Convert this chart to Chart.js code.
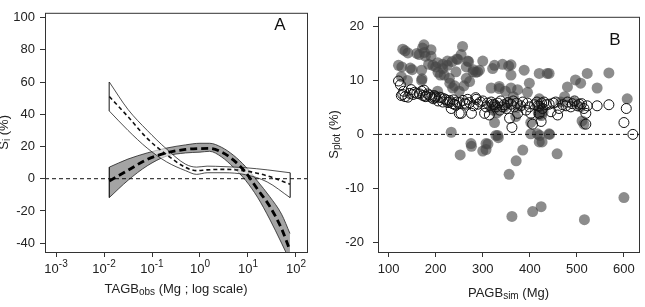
<!DOCTYPE html>
<html>
<head>
<meta charset="utf-8">
<script src="https://cdn.jsdelivr.net/npm/chart.js@4.4.0/dist/chart.umd.min.js"></script>
<style>
    html, body { margin: 0; padding: 0; background: #fff; }
    #wrap { position: relative; width: 645px; height: 307px; }
    #chartA { position: absolute; left: 0; top: 0; }
    #chartB { position: absolute; left: 325px; top: 0; }
</style>
</head>
<body>
<div id="wrap">
    <canvas id="chartA" width="325" height="307"></canvas>
    <canvas id="chartB" width="320" height="307"></canvas>
</div>
<script>
// ---- panel A : bias vs TAGB (log scale) ----
const grayX   = [0.0129, 0.0316, 0.0794, 0.2, 0.5, 1.0, 1.58, 2.82, 5.01, 8.91, 15.8, 28.2, 50.1, 75];
const grayMid = [-1.4, 5.2, 12, 16, 18.2, 18.7, 18.8, 16.5, 11.5, 4, -6.5, -17, -31, -44.5];
const grayHi  = [7.2, 12.2, 16, 19, 21, 22, 22, 19.5, 14.5, 7.5, -1.5, -11, -22, -34];
const grayLo  = [-11.7, -1, 8, 14, 16, 16.5, 17, 13.5, 7, -1, -11.5, -25, -40, -51];

const whiteX   = [0.0129, 0.0316, 0.0794, 0.2, 0.5, 0.851, 1.41, 3.16, 8.91, 25.1, 75];
const whiteMid = [51, 38.5, 25, 15, 7, 5, 5.5, 5.8, 4.8, 1.8, -3.4];
const whiteHi  = [60, 43, 30, 18.5, 9, 7.2, 7.8, 7.5, 6.8, 5.5, 3.7];
const whiteLo  = [42, 30, 19, 10.5, 5, 2.7, 3.7, 3.7, 2.5, -2, -11.7];

const aTickExp = [-3, -2, -1, 0, 1, 2];
const aYTicks  = [-40, -20, 0, 20, 40, 60, 80, 100];

// ---- panel B : plot bias vs PAGB ----
const filledX = [130, 141, 175, 176, 190, 190, 121, 146, 170, 171, 194, 204, 215, 225, 218, 229, 243, 247, 257, 254, 236, 204, 233, 127,
    268, 300, 325, 342, 360, 321, 360, 388, 420, 437, 293, 279, 265, 272, 289, 318, 335, 360, 374, 399, 395, 420, 423, 420, 325, 370, 402, 332, 402, 416, 420, 275, 307,
    441, 522, 568, 497, 508, 543, 480, 474, 466, 494, 508, 607, 511, 515, 441,
    252, 276, 300, 307, 311, 328, 333, 356, 371, 385, 362, 406, 424, 421, 426, 442, 458, 516, 600,
    318, 322, 325, 330, 345, 355, 365, 375, 418, 422, 425, 428, 250, 240, 230, 260, 280, 285, 265, 270, 245, 235, 225, 210, 205, 200, 215, 185, 178, 170, 165, 160, 150, 140, 135, 128, 172, 355, 348, 335];
const filledY = [15.8, 15.1, 16.6, 15.2, 15.7, 14.5, 12.8, 12.3, 11.9, 10.3, 12.8, 13.3, 12.2, 13.6, 11.0, 10.4, 11.6, 13.9, 16.3, 14.8, 8.6, 8.0, 0.4, 10.7,
    13.6, 13.6, 12.8, 13.0, 12.9, 12.2, 11.0, 11.9, 11.3, 11.3, 11.9, 11.6, 10.4, 9.8, 11.6, 8.6, 8.9, 8.6, 8.3, 9.5, 7.8, 6.6, 4.8, 3.6, 2.2, 3.3, 2.2, -0.2, 0.1, 0.1, -1.4, -1.7, -1.7,
    11.3, 11.3, 11.4, 10.1, 9.5, 8.6, 8.8, 7.0, 6.0, 6.0, 5.1, 6.6, 2.5, 1.9, 0.1,
    -3.8, -2.2, -3.1, -2.8, -1.8, -0.2, -0.6, -7.4, -4.9, -2.9, -15.2, -14.3, -13.4, -0.2, -1.4, 0.0, -3.6, -15.8, -11.7,
    5, 4.5, 5.5, 4, 5, 6, 7, 5, 4, 5, 3.5, 4.2, 8, 9, 9.5, 9, 12, 11.5, 12.5, 13.5, 14, 13.5, 12.8, 11, 11.5, 12.5, 13, 13, 14.5, 10, 14.8, 15, 12, 10, 15.5, 12.5, 16, 12.7, 8, 8.5];

const openX = [121, 125, 127, 132, 141, 148, 152, 155, 166, 173, 180, 183, 187, 190, 197, 198, 208, 218, 226, 229, 233, 236, 240, 243, 250, 251, 254, 265, 272, 276,
    286, 290, 300, 304, 307, 314, 321, 328, 336, 342, 353, 357, 362, 367, 374, 381, 392, 399, 402, 406, 417, 420, 424, 427, 441, 445, 459, 462, 477, 487,
    501, 515, 519, 519, 522, 543, 568, 600, 605, 619,
    130, 135, 145, 160, 170, 175, 178, 195, 200, 205, 212, 215, 222, 230, 238, 245, 258, 262, 268, 280, 285, 295,
    310, 318, 325, 332, 338, 345, 350, 360, 365, 372, 385, 395, 410, 415, 420, 425, 430, 435, 450, 455, 470, 480, 490, 495, 505, 510];
const openY = [9.9, 9.2, 7.2, 8.0, 6.9, 8.3, 7.4, 7.8, 7.5, 7.2, 7.1, 7.5, 7.3, 6.9, 7.2, 6.8, 6.9, 6.6, 5.9, 6.3, 4.8, 5.7, 5.6, 5.4, 3.9, 5.9, 3.9, 5.6, 5.9, 3.9,
    6.5, 5.6, 6.2, 3.9, 5.1, 3.6, 5.6, 5.1, 4.5, 5.1, 5.9, 3.0, 1.3, 5.1, 3.9, 5.3, 4.5, 5.1, 3.9, 1.9, 5.3, 3.9, 2.4, 4.8, 5.6, 4.2, 3.6, 4.8, 5.3, 5.1,
    5.3, 4.8, 3.9, 1.9, 5.3, 5.3, 5.5, 2.2, 4.8, 0.0,
    7.4, 7.0, 7.6, 7.6, 8.0, 8.2, 7.0, 6.6, 7.0, 6.2, 6.8, 6.0, 6.4, 6.0, 6.4, 6.0, 6.3, 5.8, 6.5, 5.3, 6.8, 6.0,
    5.8, 6.0, 5.5, 5.8, 6.2, 5.5, 4.8, 5.6, 6.2, 5.8, 6.0, 5.8, 5.5, 6.0, 5.2, 5.8, 6.0, 5.5, 5.8, 6.0, 5.5, 6.0, 5.7, 6.2, 5.6, 5.7];

const bXTicks = [100, 200, 300, 400, 500, 600];
const bYTicks = [-20, -10, 0, 10, 20];

const FONT = 'Liberation Sans, Arial, sans-serif';
Chart.defaults.font.family = FONT;
Chart.defaults.color = '#222';

const pts = (xs, ys) => xs.map((x, i) => ({ x: x, y: ys[i] }));

// draws text made of pieces, some of them sub- or superscripted
function drawParts(ctx, parts, x, y) {
    let total = 0;
    parts.forEach(p => {
        ctx.font = p.size + 'px ' + FONT;
        total += ctx.measureText(p.t).width;
    });
    let cx = x - total / 2;
    ctx.textAlign = 'left';
    ctx.textBaseline = 'middle';
    parts.forEach(p => {
        ctx.font = p.size + 'px ' + FONT;
        ctx.fillText(p.t, cx, y + (p.dy || 0));
        cx += ctx.measureText(p.t).width;
    });
}

function decor(cfg) {
    return {
        id: 'decor',
        afterDatasetsDraw(chart) {
            const ctx = chart.ctx;
            const a = chart.chartArea;
            const y0 = chart.scales.y.getPixelForValue(0);
            ctx.save();
            ctx.strokeStyle = '#111';
            ctx.lineWidth = 1;
            ctx.setLineDash([4, 3]);
            ctx.beginPath();
            ctx.moveTo(a.left, y0);
            ctx.lineTo(a.right, y0);
            ctx.stroke();
            ctx.restore();
        },
        afterDraw(chart) {
            const ctx = chart.ctx;
            const a = chart.chartArea;
            ctx.save();
            ctx.strokeStyle = '#333';
            ctx.lineWidth = 1;
            ctx.strokeRect(a.left + 0.5, a.top + 0.5, a.right - a.left, a.bottom - a.top);
            ctx.fillStyle = '#222';
            // power-of-ten labels for the log axis
            if (cfg.powerTicks) {
                const sx = chart.scales.x;
                sx.ticks.forEach(t => {
                    const e = Math.round(Math.log10(t.value));
                    drawParts(ctx, [{ t: '10', size: 13 }, { t: String(e), size: 10, dy: -5 }], sx.getPixelForValue(t.value), 269);
                });
            }
            drawParts(ctx, cfg.xTitle, (a.left + a.right) / 2, cfg.xTitleY);
            ctx.save();
            ctx.translate(cfg.yTitleX, (a.top + a.bottom) / 2);
            ctx.rotate(-Math.PI / 2);
            drawParts(ctx, cfg.yTitle, 0, 0);
            ctx.restore();
            ctx.font = '17px ' + FONT;
            ctx.textAlign = 'center';
            ctx.textBaseline = 'middle';
            ctx.fillStyle = '#111';
            ctx.fillText(cfg.letter, cfg.letterX, cfg.letterY);
            ctx.restore();
        }
    };
}

const axisGrid = { drawOnChartArea: false, drawTicks: true, tickLength: 5, color: '#333', tickColor: '#333' };

new Chart(document.getElementById('chartA'), {
    type: 'line',
    data: {
        datasets: [
            { data: pts(grayX, grayLo), borderColor: '#222', borderWidth: 0.8, pointRadius: 0, fill: false, order: 5, cubicInterpolationMode: 'monotone', clip: 0 },
            { data: pts(grayX, grayHi), borderColor: '#222', borderWidth: 0.8, pointRadius: 0, fill: 0, backgroundColor: '#a4a4a4', order: 5, cubicInterpolationMode: 'monotone', clip: 0 },
            { data: pts(whiteX, whiteLo), borderColor: '#222', borderWidth: 0.8, pointRadius: 0, fill: false, order: 3, cubicInterpolationMode: 'monotone', clip: 0 },
            { data: pts(whiteX, whiteHi), borderColor: '#222', borderWidth: 0.8, pointRadius: 0, fill: 2, backgroundColor: 'rgba(255,255,255,0.6)', order: 3, cubicInterpolationMode: 'monotone', clip: 0 },
            { data: [{ x: grayX[0], y: grayHi[0] }, { x: grayX[0], y: grayLo[0] }], borderColor: '#222', borderWidth: 0.8, pointRadius: 0, order: 3, clip: 0 },
            { data: [{ x: whiteX[0], y: whiteHi[0] }, { x: whiteX[0], y: whiteLo[0] }], borderColor: '#222', borderWidth: 0.8, pointRadius: 0, order: 3, clip: 0 },
            { data: [{ x: whiteX[whiteX.length - 1], y: whiteHi[whiteHi.length - 1] }, { x: whiteX[whiteX.length - 1], y: whiteLo[whiteLo.length - 1] }], borderColor: '#222', borderWidth: 0.8, pointRadius: 0, order: 3, clip: 0 },
            { data: pts(whiteX, whiteMid), borderColor: '#111', borderWidth: 1.6, borderDash: [4, 3], pointRadius: 0, order: 1, cubicInterpolationMode: 'monotone', clip: 0 },
            { data: pts(grayX, grayMid), borderColor: '#000', borderWidth: 2.8, borderDash: [7, 4], pointRadius: 0, order: 0, cubicInterpolationMode: 'monotone', clip: 0 }
        ]
    },
    options: {
        responsive: false,
        animation: false,
        layout: { padding: { top: 5, right: 18, left: 0, bottom: 0 } },
        plugins: { legend: { display: false }, tooltip: { enabled: false } },
        scales: {
            x: {
                type: 'logarithmic',
                min: Math.pow(10, -3.23),
                max: Math.pow(10, 2.23),
                afterBuildTicks: s => { s.ticks = aTickExp.map(e => ({ value: Math.pow(10, e) })); },
                afterFit: s => { s.height = 55; },
                ticks: { display: false },
                grid: axisGrid,
                border: { display: false }
            },
            y: {
                min: -45.5,
                max: 103,
                afterBuildTicks: s => { s.ticks = aYTicks.map(v => ({ value: v })); },
                afterFit: s => { s.width = 45; },
                ticks: { font: { size: 13 }, padding: 5 },
                grid: axisGrid,
                border: { display: false }
            }
        }
    },
    plugins: [decor({
        powerTicks: true,
        xTitle: [{ t: 'TAGB', size: 13 }, { t: 'obs', size: 10, dy: 3 }, { t: ' (Mg ; log scale)', size: 13 }],
        xTitleY: 289,
        yTitle: [{ t: 'S', size: 13 }, { t: 'i', size: 10, dy: 3 }, { t: ' (%)', size: 13 }],
        yTitleX: 4,
        letter: 'A', letterX: 280, letterY: 25
    })]
});

new Chart(document.getElementById('chartB'), {
    type: 'scatter',
    data: {
        datasets: [
            { data: pts(openX, openY), pointRadius: 5, pointBorderWidth: 1, pointBorderColor: '#111', pointBackgroundColor: 'rgba(0,0,0,0)', order: 0 },
            { data: pts(filledX, filledY), pointRadius: 5.5, pointBorderWidth: 0, pointBackgroundColor: 'rgba(70,70,70,0.62)', order: 1 }
        ]
    },
    options: {
        responsive: false,
        animation: false,
        layout: { padding: { top: 5, right: 5, left: 0, bottom: 0 } },
        plugins: { legend: { display: false }, tooltip: { enabled: false } },
        scales: {
            x: {
                min: 77.4,
                max: 632,
                afterBuildTicks: s => { s.ticks = bXTicks.map(v => ({ value: v })); },
                afterFit: s => { s.height = 55; },
                ticks: { font: { size: 13 }, padding: 5, maxRotation: 0, autoSkip: false },
                grid: axisGrid,
                border: { display: false }
            },
            y: {
                min: -21.8,
                max: 21.8,
                afterBuildTicks: s => { s.ticks = bYTicks.map(v => ({ value: v })); },
                afterFit: s => { s.width = 53; },
                ticks: { font: { size: 13 }, padding: 9 },
                grid: axisGrid,
                border: { display: false }
            }
        }
    },
    plugins: [decor({
        xTitle: [{ t: 'PAGB', size: 13 }, { t: 'sim', size: 10, dy: 3 }, { t: ' (Mg)', size: 13 }],
        xTitleY: 293,
        yTitle: [{ t: 'S', size: 13 }, { t: 'plot', size: 10, dy: 3 }, { t: ' (%)', size: 13 }],
        yTitleX: 9,
        letter: 'B', letterX: 290, letterY: 40
    })]
});
</script>
</body>
</html>
